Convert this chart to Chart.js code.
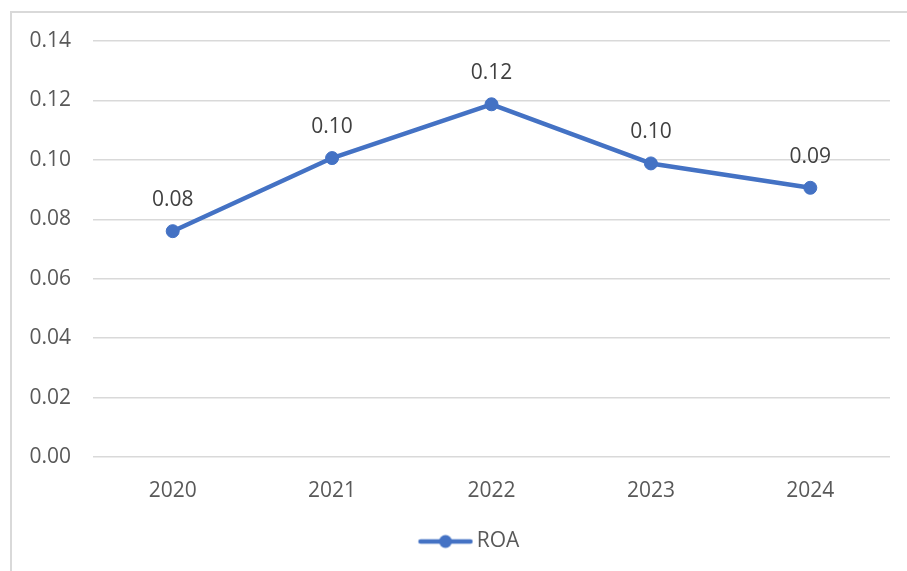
<!DOCTYPE html>
<html>
<head>
<meta charset="utf-8">
<script src="https://cdn.jsdelivr.net/npm/chart.js@4/dist/chart.umd.min.js"></script>
<style>
  html, body { margin: 0; padding: 0; background: #ffffff; }
  #wrap { position: relative; width: 907px; height: 571px; }
</style>
</head>
<body>
<div id="wrap"><canvas id="c" width="907" height="571"></canvas></div>
<script>
// Return on assets by year
const years = ['2020', '2021', '2022', '2023', '2024'];
const roa = [0.076, 0.1006, 0.1187, 0.0988, 0.0906];
const seriesName = 'ROA';

const FONT = '"Open Sans", "Liberation Sans", sans-serif';
const BLUE = '#4472C4';
const GRID = '#d9d9d9';
const TEXT = '#595959';

// Legend marker: a short line with a dot in its middle, drawn in the
// right part of the image so it sits close to the label text
function legendMarker() {
  const cv = document.createElement('canvas');
  cv.width = 110; cv.height = 16;
  const g = cv.getContext('2d');
  g.strokeStyle = BLUE; g.lineWidth = 4.5; g.lineCap = 'round';
  g.beginPath(); g.moveTo(57, 8); g.lineTo(107, 8); g.stroke();
  g.fillStyle = BLUE;
  g.beginPath(); g.arc(82, 8, 6.5, 0, Math.PI * 2); g.fill();
  return cv;
}
const marker = legendMarker();

// Frame lines along the top and left edge of the chart box
const framePlugin = {
  id: 'frame',
  beforeDraw(chart) {
    const ctx = chart.ctx;
    ctx.save();
    ctx.strokeStyle = GRID;
    ctx.lineWidth = 2;
    ctx.beginPath();
    ctx.moveTo(11, 571);
    ctx.lineTo(11, 12);
    ctx.lineTo(907, 12);
    ctx.stroke();
    ctx.restore();
  }
};

// Value labels above each point
const valueLabels = {
  id: 'valueLabels',
  afterDatasetsDraw(chart) {
    const ctx = chart.ctx;
    const meta = chart.getDatasetMeta(0);
    ctx.save();
    ctx.font = '21px ' + FONT;
    ctx.fillStyle = '#404040';
    ctx.textAlign = 'center';
    ctx.textBaseline = 'middle';
    meta.data.forEach((pt, i) => {
      const v = chart.data.datasets[0].data[i];
      ctx.fillText(v.toFixed(2), pt.x, pt.y - 31);
    });
    ctx.restore();
  }
};

new Chart(document.getElementById('c'), {
  type: 'line',
  data: {
    labels: years,
    datasets: [{
      label: seriesName,
      data: roa,
      borderColor: BLUE,
      backgroundColor: BLUE,
      borderWidth: 4.5,
      borderCapStyle: 'round',
      borderJoinStyle: 'round',
      pointRadius: 6.5,
      pointBorderWidth: 1,
      pointBackgroundColor: BLUE,
      pointBorderColor: BLUE,
      tension: 0,
      fill: false
    }]
  },
  options: {
    responsive: false,
    animation: false,
    devicePixelRatio: 1,
    layout: { padding: { left: 0, right: 17, top: 41, bottom: 9 } },
    plugins: {
      legend: {
        position: 'bottom',
        labels: {
          usePointStyle: true,
          pointStyleWidth: 95.5,
          padding: 10,
          color: TEXT,
          font: { family: FONT, size: 21 },
          generateLabels(chart) {
            const ds = chart.data.datasets[0];
            return [{
              text: ds.label,
              pointStyle: marker,
              fillStyle: BLUE,
              strokeStyle: BLUE,
              lineWidth: 0,
              hidden: false,
              datasetIndex: 0,
              fontColor: TEXT
            }];
          }
        }
      },
      tooltip: { enabled: false }
    },
    scales: {
      x: {
        offset: true,
        grid: { display: false },
        border: { display: false },
        ticks: { color: TEXT, font: { family: FONT, size: 21 }, padding: 13 },
        afterFit(scale) { scale.height = 64; }
      },
      y: {
        min: 0,
        max: 0.14,
        grid: { color: GRID, lineWidth: 1.5, drawTicks: false },
        border: { display: false },
        ticks: {
          stepSize: 0.02,
          color: TEXT,
          padding: 22,
          font: { family: FONT, size: 21 },
          callback: (v) => Number(v).toFixed(2)
        },
        afterFit(scale) { scale.width = 93; }
      }
    }
  },
  plugins: [framePlugin, valueLabels]
});
</script>
</body>
</html>
